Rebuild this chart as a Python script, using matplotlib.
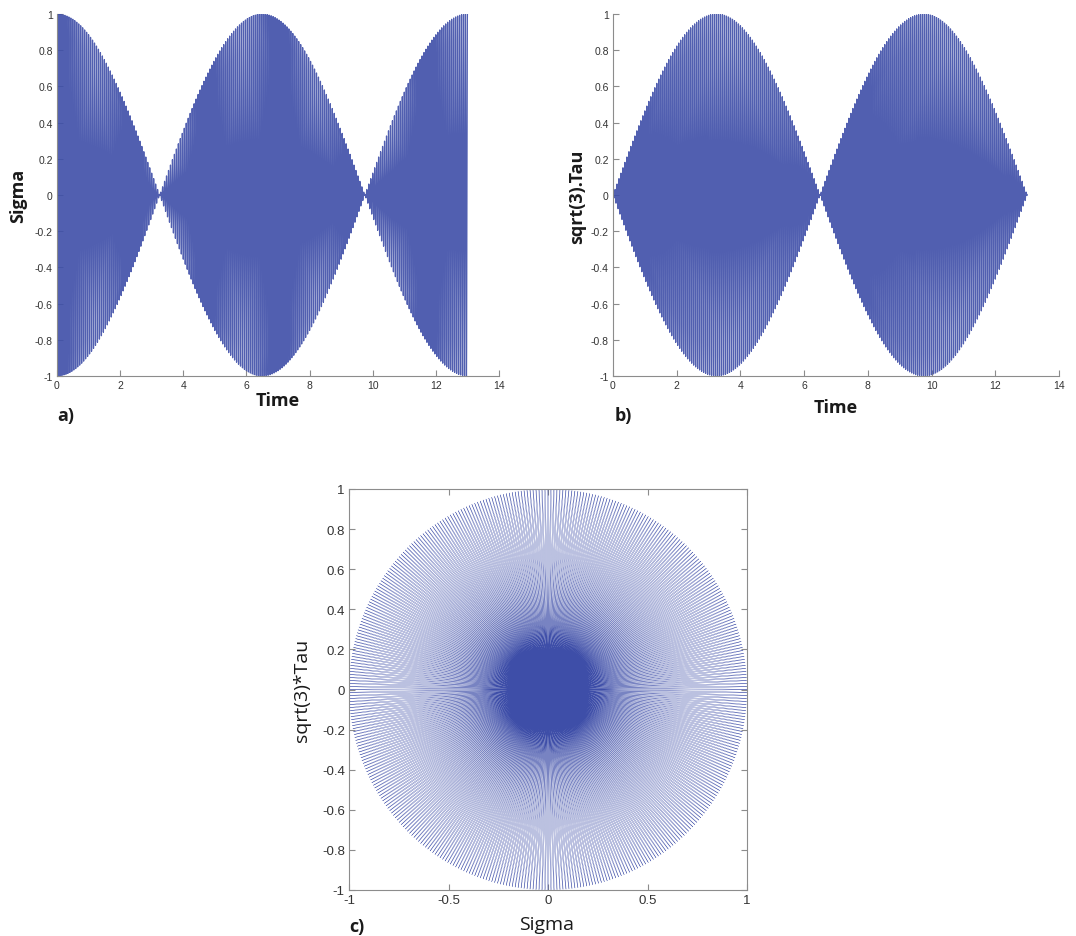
import numpy as np
import matplotlib
matplotlib.use('Agg')
import matplotlib.pyplot as plt

# values
t_end = 13.0            # signal stops at t = 13
beat_period = 13.0      # envelope: zeros at 3.25 / 9.75 (a), 6.5 (b)
carrier_freq = 16.0     # fast oscillation, cycles per time unit
dt = 0.0005

time_ticks = [0, 2, 4, 6, 8, 10, 12, 14]
amp_ticks = [-1, -0.8, -0.6, -0.4, -0.2, 0, 0.2, 0.4, 0.6, 0.8, 1]
amp_labels = ['-1', '-0.8', '-0.6', '-0.4', '-0.2', '0', '0.2', '0.4', '0.6', '0.8', '1']
c_xticks = [-1, -0.5, 0, 0.5, 1]
c_xlabels = ['-1', '-0.5', '0', '0.5', '1']

t = np.arange(0, t_end + dt / 2, dt)
w_slow = 2 * np.pi / beat_period
carrier = np.cos(2 * np.pi * carrier_freq * t)
sigma = np.cos(w_slow * t) * carrier
tau3 = np.sin(w_slow * t) * carrier

W, H = 1076, 937
LINE = '#3e4ea8'
SPINE = '#8c8c8c'
TICKC = '#333333'
plt.rcParams['font.family'] = ['Liberation Sans', 'DejaVu Sans']

fig = plt.figure(figsize=(W / 100, H / 100), dpi=100)


def box(x0, x1, y0, y1):
    return [x0 / W, 1 - y1 / H, (x1 - x0) / W, (y1 - y0) / H]


def style(ax, full, size):
    for s in ['top', 'right']:
        ax.spines[s].set_visible(full)
    for s in ax.spines.values():
        s.set_color(SPINE)
        s.set_linewidth(0.8)
    ax.tick_params(direction='in', length=4, color=SPINE, labelcolor=TICKC,
                   labelsize=size, top=full, right=full, pad=3)


def label(x, y, s, size, bold=False, rot=0):
    fig.text(x / W, 1 - y / H, s, fontsize=size, rotation=rot,
             fontweight='bold' if bold else 'normal', family=['Open Sans', 'DejaVu Sans'],
             ha='center', va='center', color='#1a1a1a')


# a) sigma against time
ax = fig.add_axes(box(57, 499, 15, 377))
ax.plot(t, sigma, color=LINE, lw=0.9, alpha=0.9)
ax.set_xlim(0, 14)
ax.set_ylim(-1, 1)
ax.set_xticks(time_ticks)
ax.set_yticks(amp_ticks, amp_labels)
style(ax, False, 7.5)
label(278, 401, 'Time', 13, True)
label(18, 196, 'Sigma', 13, True, 90)
label(66, 416, 'a)', 13, True)

# b) sqrt(3).tau against time
ax = fig.add_axes(box(613, 1059, 15, 377))
ax.plot(t, tau3, color=LINE, lw=0.9, alpha=0.9)
ax.set_xlim(0, 14)
ax.set_ylim(-1, 1)
ax.set_xticks(time_ticks)
ax.set_yticks(amp_ticks, amp_labels)
style(ax, False, 7.5)
label(836, 408, 'Time', 13, True)
label(577, 197, 'sqrt(3).Tau', 13, True, 90)
label(623, 416, 'b)', 13, True)

# c) phase plane
ax = fig.add_axes(box(349, 747, 490, 891))
ax.plot(sigma, tau3, color=LINE, lw=0.25)
ax.set_xlim(-1, 1)
ax.set_ylim(-1, 1)
ax.set_xticks(c_xticks, c_xlabels)
ax.set_yticks(amp_ticks, amp_labels)
style(ax, True, 9.5)
label(547, 925, 'Sigma', 14)
label(302, 690, 'sqrt(3)*Tau', 14, False, 90)
label(357, 927, 'c)', 13, True)

fig.savefig('out.png', dpi=100)
